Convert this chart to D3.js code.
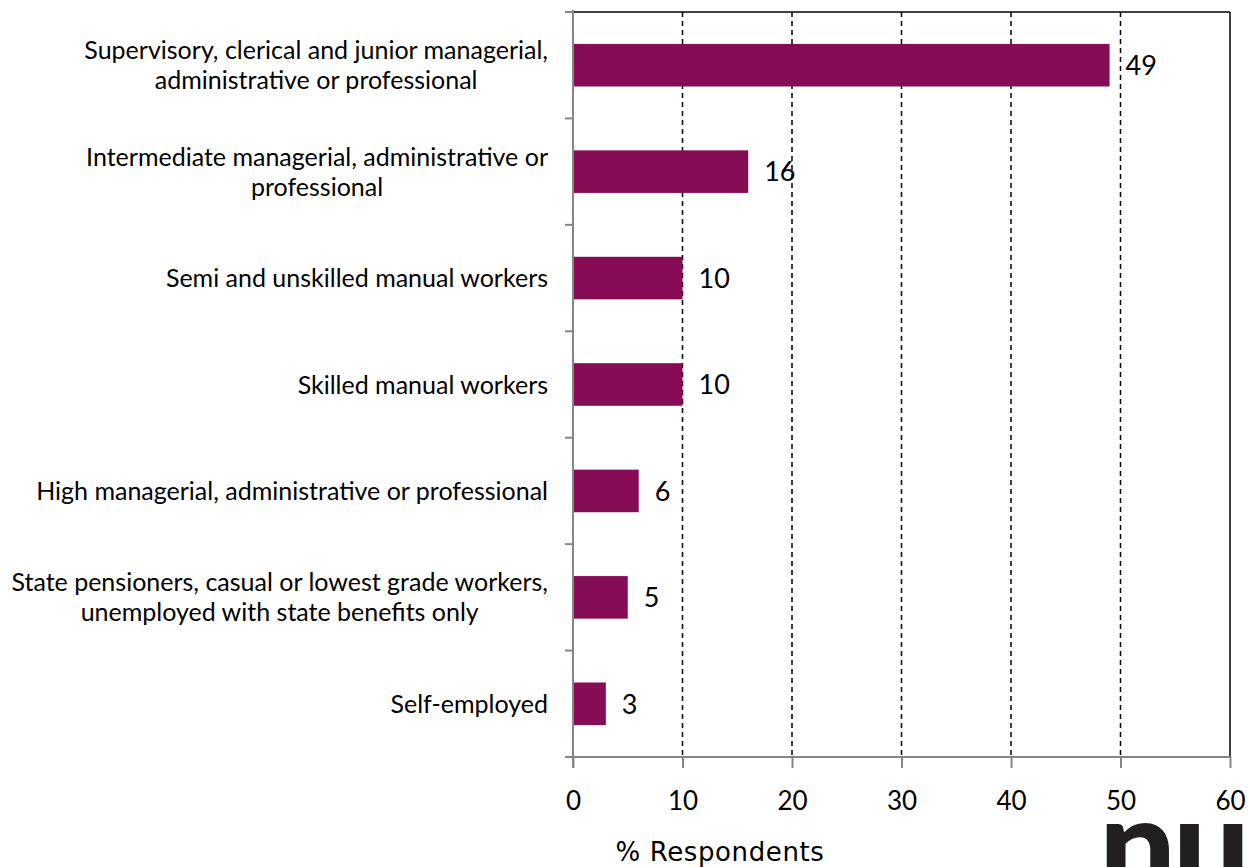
<!DOCTYPE html>
<html>
<head>
<meta charset="utf-8">
<script src="https://cdn.jsdelivr.net/npm/d3@7"></script>
<style>
  html, body { margin: 0; padding: 0; background: #fff; }
  svg { display: block; }
</style>
</head>
<body>
<svg id="chart" width="1248" height="867"></svg>
<script>
const categories = [
  ["Supervisory, clerical and junior managerial,", "administrative or professional"],
  ["Intermediate managerial, administrative or", "professional"],
  ["Semi and unskilled manual workers"],
  ["Skilled manual workers"],
  ["High managerial, administrative or professional"],
  ["State pensioners, casual or lowest grade workers,", "unemployed with state benefits only"],
  ["Self-employed"]
];
const values = [49, 16, 10, 10, 6, 5, 3];
const xTicks = [0, 10, 20, 30, 40, 50, 60];
const xTitle = "% Respondents";
const logoText = "nu";

(function () {
const svg = d3.select("#chart");
const pl = 573, pr = 1230, pt = 12, pb = 757;

const keys = categories.map((c, i) => i);
const x = d3.scaleLinear().domain([0, 60]).range([pl, pr]);
const y = d3.scaleBand().domain(keys).range([pt, pb]).paddingInner(0.6).paddingOuter(0.3);

const labelFont = "Lato, 'Open Sans', sans-serif";

// gridlines
svg.append("g").selectAll("line").data(xTicks.filter(t => t > 0 && t < 60)).join("line")
  .attr("x1", d => x(d)).attr("x2", d => x(d))
  .attr("y1", pt).attr("y2", pb)
  .attr("stroke", "#000").attr("stroke-width", 1.5).attr("stroke-dasharray", "5,4");

// border top & right
svg.append("line").attr("x1", pl).attr("x2", pr).attr("y1", pt).attr("y2", pt)
  .attr("stroke", "#000").attr("stroke-width", 1.5);
svg.append("line").attr("x1", pr).attr("x2", pr).attr("y1", pt).attr("y2", pb)
  .attr("stroke", "#000").attr("stroke-width", 1.5);

// bars
svg.append("g").selectAll("rect").data(values).join("rect")
  .attr("x", x(0)).attr("y", (d, i) => y(i))
  .attr("width", d => x(d) - x(0)).attr("height", y.bandwidth())
  .attr("fill", "#850C55");

// value labels
svg.append("g").selectAll("text").data(values).join("text")
  .attr("x", d => x(d) + 16).attr("y", (d, i) => y(i) + y.bandwidth() / 2)
  .attr("dy", "0.36em")
  .attr("font-family", labelFont).attr("font-size", 27).attr("fill", "#000")
  .text(d => d);

// x axis
const xAxis = d3.axisBottom(x).tickValues(xTicks).tickSize(11).tickPadding(24).tickFormat(d3.format("d"));
const gx = svg.append("g").attr("transform", `translate(0,${pb})`).call(xAxis);
gx.select(".domain").attr("stroke", "#868686").attr("stroke-width", 2)
  .attr("d", `M${pl - 8},0H${pr}`);
gx.selectAll(".tick line").attr("stroke", "#868686").attr("stroke-width", 2);
gx.selectAll(".tick text").attr("font-family", labelFont).attr("font-size", 26).attr("fill", "#000");

// y axis line + ticks at band boundaries
const bounds = keys.map(k => y(k) - y.step() * y.paddingInner() / 2);
bounds.push(pb);
bounds[0] = pt;
svg.append("line").attr("x1", pl).attr("x2", pl).attr("y1", pt - 2).attr("y2", pb + 11)
  .attr("stroke", "#868686").attr("stroke-width", 2);
svg.append("g").selectAll("line").data(bounds).join("line")
  .attr("x1", pl - 8).attr("x2", pl).attr("y1", d => d).attr("y2", d => d)
  .attr("stroke", "#868686").attr("stroke-width", 2);

// category labels
const cg = svg.append("g");
categories.forEach((lines, i) => {
  const cy = y(i) + y.bandwidth() / 2;
  const lh = 30;
  const t = cg.append("text")
    .attr("text-anchor", "middle")
    .attr("font-family", labelFont).attr("font-size", 25).attr("fill", "#000");
  lines.forEach((ln, j) => {
    t.append("tspan").attr("x", 0).attr("y", cy + (j - (lines.length - 1) / 2) * lh).attr("dy", "0.36em").text(ln);
  });
  const bb = t.node().getBBox();
  t.selectAll("tspan").attr("x", 548 - bb.width / 2);
});

// x title
svg.append("text").attr("x", 720).attr("y", 852).attr("dy", "0.36em")
  .attr("text-anchor", "middle")
  .attr("font-family", "'DejaVu Sans', Verdana, sans-serif").attr("font-size", 26)
  .attr("letter-spacing", 0.6).attr("fill", "#000")
  .text(xTitle);

// logo
svg.append("text").attr("x", 1099).attr("y", 894)
  .attr("font-family", "Lato, sans-serif").attr("font-weight", 900).attr("font-size", 136)
  .attr("fill", "#231f20").attr("letter-spacing", -3)
  .text(logoText);
})();
</script>
</body>
</html>
